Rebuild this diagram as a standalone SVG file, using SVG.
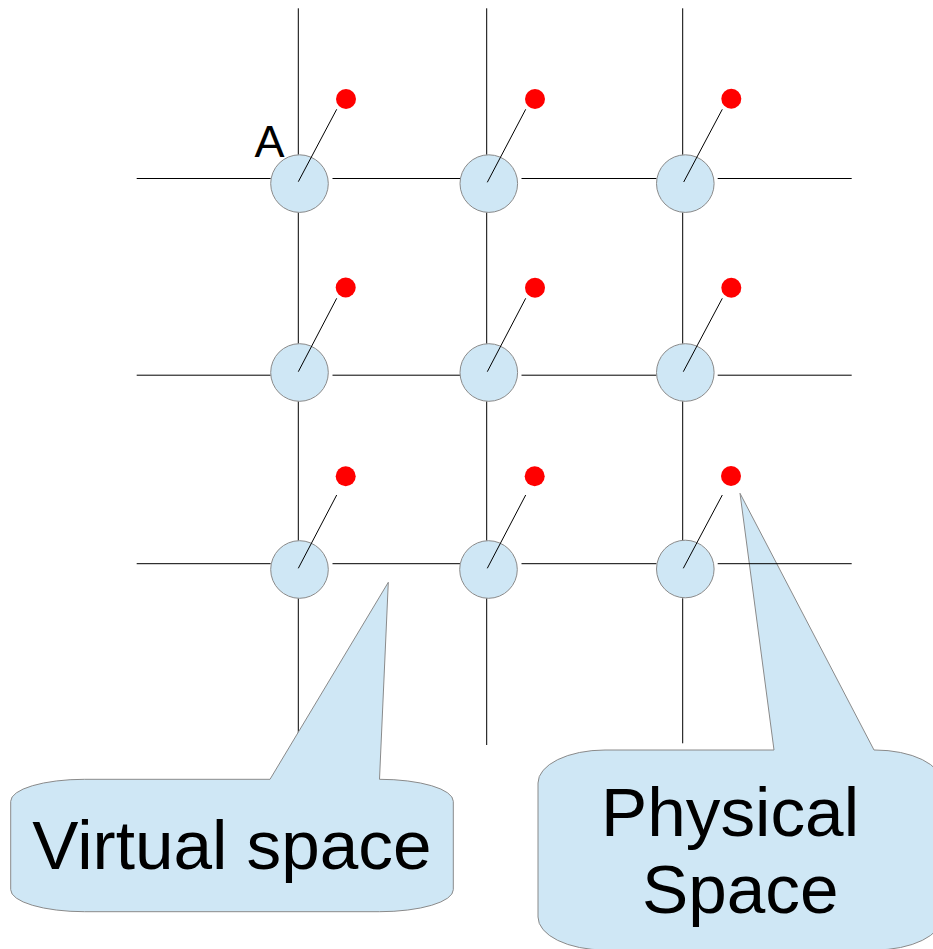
<svg xmlns="http://www.w3.org/2000/svg" width="933" height="949" viewBox="0 0 933 949">
<style>
  .grid { stroke: #000; stroke-width: 1; fill: none; }
  .node { fill: #cfe7f5; stroke: #8a8a8a; stroke-width: 1; }
  .dot { fill: #ff0000; stroke: none; }
  .ptr { stroke: #000; stroke-width: 1; }
  .callout { fill: #cfe7f5; stroke: #8a8a8a; stroke-width: 1; }
  .big { font-family: "Liberation Sans", Arial, sans-serif; font-size: 69.3px; fill: #000; }
  .lbl { font-family: "Liberation Sans", Arial, sans-serif; font-size: 45px; fill: #000; }
</style>
<rect width="933" height="949" fill="#fff"/>

<g id="callout-physical">
  <path class="callout" d="M 605 750 L 774 750 L 740 493.3 L 874 750 L 875 750 A 67 33 0 0 1 942 783 L 942 917 A 67 33 0 0 1 875 950 L 605 950 A 67 33 0 0 1 538 917 L 538 783 A 67 33 0 0 1 605 750 Z"/>
  <text class="big" x="601" y="835.5">Physical</text>
  <text class="big" x="642" y="913">Space</text>
</g>

<g id="connectors" class="grid">
  <line x1="136.7" y1="178.5" x2="270.7" y2="178.5"/>
  <line x1="332.5" y1="178.5" x2="460" y2="178.5"/>
  <line x1="521.5" y1="178.5" x2="656.5" y2="178.5"/>
  <line x1="717.7" y1="178.5" x2="851.7" y2="178.5"/>
  <line x1="136.7" y1="375.2" x2="270.7" y2="375.2"/>
  <line x1="332.5" y1="375.2" x2="460" y2="375.2"/>
  <line x1="521.5" y1="375.2" x2="656.5" y2="375.2"/>
  <line x1="717.7" y1="375.2" x2="851.7" y2="375.2"/>
  <line x1="136.7" y1="563.7" x2="270.7" y2="563.7"/>
  <line x1="332.5" y1="563.7" x2="460" y2="563.7"/>
  <line x1="521.5" y1="563.7" x2="656.5" y2="563.7"/>
  <line x1="717.7" y1="563.7" x2="851.7" y2="563.7"/>
  <line x1="298.3" y1="8.3" x2="298.3" y2="154.8"/>
  <line x1="298.3" y1="212.4" x2="298.3" y2="343.7"/>
  <line x1="298.3" y1="401.3" x2="298.3" y2="540.7"/>
  <line x1="298.3" y1="598.3" x2="298.3" y2="745"/>
  <line x1="486.7" y1="8.3" x2="486.7" y2="154.8"/>
  <line x1="486.7" y1="212.4" x2="486.7" y2="343.7"/>
  <line x1="486.7" y1="401.3" x2="486.7" y2="540.7"/>
  <line x1="486.7" y1="598.3" x2="486.7" y2="745"/>
  <line x1="682.7" y1="8.3" x2="682.7" y2="154.8"/>
  <line x1="682.7" y1="212.4" x2="682.7" y2="343.7"/>
  <line x1="682.7" y1="401.3" x2="682.7" y2="540.7"/>
  <line x1="682.7" y1="598.3" x2="682.7" y2="743.3"/>
</g>

<g id="node-r1c1">
  <circle class="node" cx="299.5" cy="183.6" r="28.8"/>
  <line class="ptr" x1="336.7" y1="109.3" x2="298.3" y2="181.7"/>
  <circle class="dot" cx="346" cy="99" r="10"/>
</g>
<g id="node-r1c2">
  <circle class="node" cx="488.8" cy="183.6" r="28.8"/>
  <line class="ptr" x1="525.7" y1="109.3" x2="487.3" y2="182.3"/>
  <circle class="dot" cx="535" cy="99" r="10"/>
</g>
<g id="node-r1c3">
  <circle class="node" cx="685.3" cy="183.6" r="28.8"/>
  <line class="ptr" x1="722.3" y1="109.3" x2="683.7" y2="182"/>
  <circle class="dot" cx="731.3" cy="98.7" r="10"/>
</g>
<g id="node-r2c1">
  <circle class="node" cx="299.5" cy="372.5" r="28.8"/>
  <line class="ptr" x1="336.7" y1="298.3" x2="298.3" y2="371.7"/>
  <circle class="dot" cx="345.7" cy="287.5" r="10"/>
</g>
<g id="node-r2c2">
  <circle class="node" cx="488.8" cy="372.5" r="28.8"/>
  <line class="ptr" x1="525.7" y1="298.3" x2="487.3" y2="371.7"/>
  <circle class="dot" cx="535" cy="287.7" r="10"/>
</g>
<g id="node-r2c3">
  <circle class="node" cx="685.3" cy="372.5" r="28.8"/>
  <line class="ptr" x1="722.3" y1="298.3" x2="683.3" y2="371.7"/>
  <circle class="dot" cx="731.3" cy="287.7" r="10"/>
</g>
<g id="node-r3c1">
  <circle class="node" cx="299.5" cy="569.5" r="28.8"/>
  <line class="ptr" x1="336.7" y1="495" x2="298.3" y2="568.3"/>
  <circle class="dot" cx="345.7" cy="476.3" r="10"/>
</g>
<g id="node-r3c2">
  <circle class="node" cx="488.5" cy="569.5" r="28.8"/>
  <line class="ptr" x1="525.7" y1="495" x2="487.3" y2="568.3"/>
  <circle class="dot" cx="534.7" cy="476.3" r="10"/>
</g>
<g id="node-r3c3">
  <circle class="node" cx="685.3" cy="569" r="28.8"/>
  <line class="ptr" x1="722.3" y1="495" x2="683.3" y2="568.3"/>
  <circle class="dot" cx="731" cy="476" r="10"/>
</g>

<g id="label-A">
  <text class="lbl" x="254.5" y="157.3">A</text>
</g>

<g id="callout-virtual">
  <path class="callout" d="M 84.5 779.3 L 270 779.3 L 388.3 582.3 L 379.5 779.3 A 73.8 22 0 0 1 453.3 801.3 L 453.3 889.7 A 73.8 22 0 0 1 379.5 911.7 L 84.5 911.7 A 73.8 22 0 0 1 10.7 889.7 L 10.7 801.3 A 73.8 22 0 0 1 84.5 779.3 Z"/>
  <text class="big" x="32.2" y="869">Virtual space</text>
</g>
</svg>
